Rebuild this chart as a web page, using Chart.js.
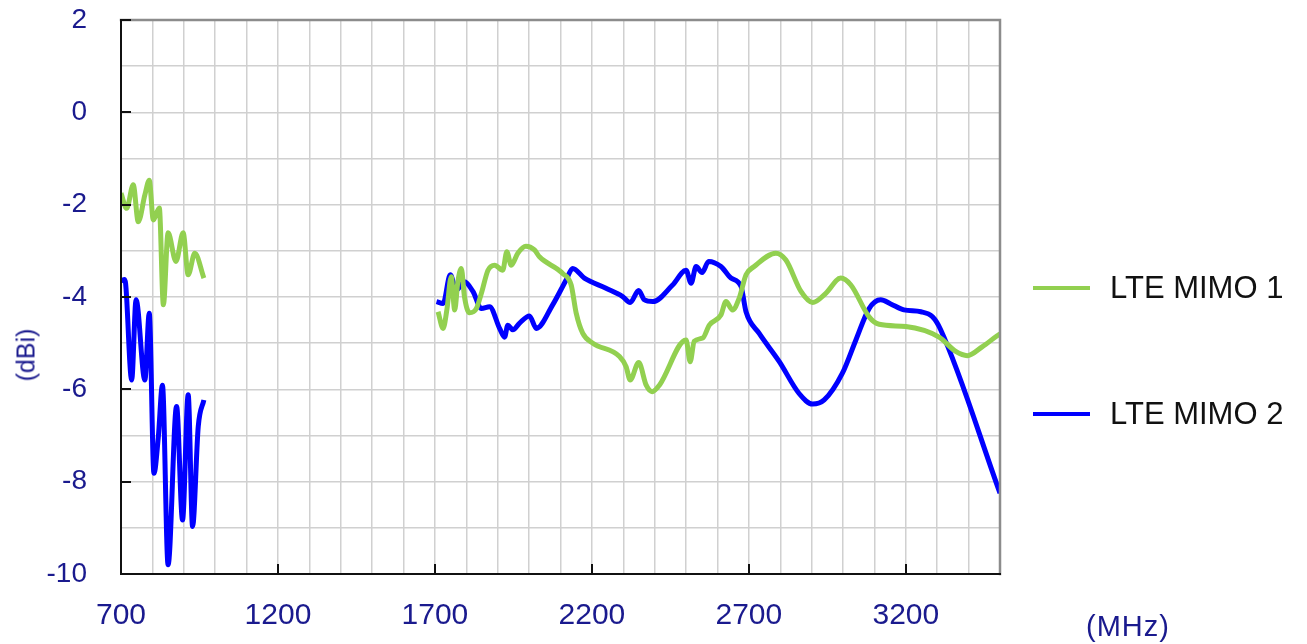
<!DOCTYPE html>
<html>
<head>
<meta charset="utf-8">
<script src="https://cdn.jsdelivr.net/npm/chart.js@4.4.1/dist/chart.umd.min.js"></script>
<style>
  body { margin: 0; background: #fff; }
  #wrap { position: relative; width: 1307px; height: 644px; font-family: "Liberation Sans", Arial, sans-serif; }
  #chart { position: absolute; left: 0; top: 0; }
  .leg { position: absolute; left: 1033px; height: 32px; }
  .leg .ln { position: absolute; left: 0; top: 14px; width: 57px; height: 4px; }
  .leg .tx { position: absolute; left: 77px; top: 0; font-size: 31px; line-height: 32px; color: #111; white-space: nowrap; }
  #ylab { position: absolute; left: 26px; top: 355px; transform: translate(-50%, -50%) rotate(-90deg); font-size: 25px; color: #1a1a8e; white-space: nowrap; }
  #xlab { position: absolute; left: 1128px; top: 626px; transform: translate(-50%, -50%); font-size: 29px; color: #1a1a8e; white-space: nowrap; letter-spacing: 1px; }
</style>
</head>
<body>
<div id="wrap">
  <canvas id="chart" width="1307" height="644"></canvas>
  <div class="leg" style="top:272px"><div class="ln" style="background:#92d050"></div><div class="tx">LTE MIMO 1</div></div>
  <div class="leg" style="top:398px"><div class="ln" style="background:#0000ff"></div><div class="tx">LTE MIMO 2</div></div>
  <div id="ylab">(dBi)</div>
  <div id="xlab">(MHz)</div>
</div>
<script>
const xTickLabels = [700, 1200, 1700, 2200, 2700, 3200]
const yTickLabels = [2, 0, -2, -4, -6, -8, -10]

// null gain = gap between the two bands
const mimo1Freq = [700, 718, 739, 755, 776, 790, 803, 822, 835, 850, 875, 898, 914, 935, 964,
    1300,
    1710, 1726, 1738, 1752, 1763, 1773, 1784, 1794, 1810, 1832, 1848, 1869, 1890, 1916, 1929, 1943,
    1964, 1990, 2017, 2033, 2107, 2134, 2150, 2171, 2203, 2288, 2309, 2322, 2349, 2373, 2392, 2415,
    2500, 2513, 2526, 2553, 2574, 2611, 2627, 2648, 2669, 2691, 2717, 2786, 2818, 2866, 2903, 2945,
    2993, 3025, 3083, 3115, 3200, 3306, 3359, 3396, 3443, 3491, 3500]
const mimo1Gain = [-1.75, -2.08, -1.57, -2.37, -1.79, -1.47, -2.33, -2.07, -4.17, -2.61, -3.23, -2.61, -3.52, -3.05, -3.59,
    null,
    -4.32, -4.68, -4.28, -3.56, -4.28, -3.67, -3.38, -3.99, -4.34, -4.25, -3.92, -3.42, -3.31, -3.42, -3.02, -3.31,
    -3.05, -2.90, -2.98, -3.13, -3.49, -3.74, -4.35, -4.79, -5.00, -5.29, -5.51, -5.80, -5.42, -5.91, -6.05, -5.91,
    -4.93, -5.40, -4.96, -4.89, -4.61, -4.39, -4.10, -4.28, -4.03, -3.52, -3.34, -3.05, -3.20, -3.88, -4.12, -3.92,
    -3.59, -3.74, -4.43, -4.59, -4.64, -4.87, -5.18, -5.27, -5.08, -4.84, -4.80]

const mimo2Freq = [700, 712, 734, 748, 776, 790, 805, 819, 832, 850, 877, 896, 914, 928, 946, 964,
    1300,
    1705, 1726, 1749, 1768, 1794, 1821, 1848, 1874, 1906, 1922, 1932, 1948, 1969, 2001, 2023, 2075,
    2118, 2139, 2176, 2245, 2298, 2322, 2349, 2367, 2394, 2457, 2500, 2516, 2532, 2551, 2572, 2611,
    2643, 2675, 2691, 2733, 2797, 2860, 2903, 2940, 2998, 3041, 3083, 3120, 3152, 3194, 3248, 3285,
    3311, 3500]
const mimo2Gain = [-3.65, -3.62, -5.80, -4.06, -5.80, -4.35, -7.82, -7.02, -5.91, -9.80, -6.37, -8.83, -6.12, -8.97, -6.81, -6.23,
    null,
    -4.10, -4.14, -3.52, -3.85, -3.67, -3.88, -4.25, -4.21, -4.68, -4.87, -4.61, -4.71, -4.57, -4.41, -4.68, -4.17,
    -3.63, -3.38, -3.59, -3.81, -3.99, -4.12, -3.86, -4.06, -4.10, -3.74, -3.42, -3.70, -3.34, -3.47, -3.23, -3.34,
    -3.59, -3.77, -4.32, -4.79, -5.40, -6.09, -6.32, -6.23, -5.65, -4.93, -4.25, -4.06, -4.15, -4.28, -4.32, -4.43,
    -4.71, -8.25]

const tickColor = '#1a1a8e'
const font = '"Liberation Sans", Arial, sans-serif'

function points(freq, gain) {
    return freq.map((f, i) => ({ x: f, y: gain[i] }))
}

const framePlugin = {
    id: 'frame',
    afterDraw(chart) {
        const { ctx, chartArea: a, scales } = chart
        ctx.save()
        ctx.lineCap = 'square'
        ctx.strokeStyle = '#8c8c8c'
        ctx.lineWidth = 2.5
        ctx.beginPath()
        ctx.moveTo(a.left, a.top)
        ctx.lineTo(a.right, a.top)
        ctx.lineTo(a.right, a.bottom)
        ctx.stroke()

        ctx.strokeStyle = '#111'
        ctx.lineWidth = 2
        ctx.beginPath()
        ctx.moveTo(a.left, a.top)
        ctx.lineTo(a.left, a.bottom)
        ctx.lineTo(a.right, a.bottom)
        yTickLabels.forEach(v => {
            const py = Math.round(scales.y.getPixelForValue(v))
            ctx.moveTo(a.left, py)
            ctx.lineTo(a.left + 9, py)
        })
        xTickLabels.forEach(v => {
            const px = Math.round(scales.x.getPixelForValue(v))
            ctx.moveTo(px, a.bottom)
            ctx.lineTo(px, a.bottom - 9)
        })
        ctx.stroke()
        ctx.restore()
    }
}

new Chart(document.getElementById('chart').getContext('2d'), {
    type: 'line',
    data: {
        datasets: [
            {
                label: 'LTE MIMO 1',
                data: points(mimo1Freq, mimo1Gain),
                borderColor: '#92d050',
                borderWidth: 5,
                pointRadius: 0,
                cubicInterpolationMode: 'monotone',
                fill: false
            },
            {
                label: 'LTE MIMO 2',
                data: points(mimo2Freq, mimo2Gain),
                borderColor: '#0000ff',
                borderWidth: 5,
                pointRadius: 0,
                cubicInterpolationMode: 'monotone',
                fill: false
            }
        ]
    },
    options: {
        responsive: false,
        animation: false,
        layout: { padding: { left: 0, top: 20, right: 307, bottom: 0 } },
        plugins: {
            legend: { display: false },
            tooltip: { enabled: false }
        },
        scales: {
            x: {
                type: 'linear',
                min: 700,
                max: 3500,
                afterFit: s => { s.height = 70; s.paddingLeft = 0; s.paddingRight = 0 },
                border: { display: false },
                grid: { color: '#d0d0d0', lineWidth: 1.5, drawTicks: false },
                ticks: {
                    stepSize: 100,
                    autoSkip: false,
                    maxRotation: 0,
                    padding: 24,
                    color: tickColor,
                    font: { family: font, size: 30 },
                    callback: v => xTickLabels.includes(v) ? String(v) : ''
                }
            },
            y: {
                min: -10,
                max: 2,
                afterFit: s => { s.width = 121; s.paddingTop = 0; s.paddingBottom = 0 },
                border: { display: false },
                grid: { color: '#d0d0d0', lineWidth: 1.5, drawTicks: false },
                ticks: {
                    stepSize: 1,
                    autoSkip: false,
                    padding: 34,
                    color: tickColor,
                    font: { family: font, size: 28 },
                    callback: v => yTickLabels.includes(v) ? String(v) : ''
                }
            }
        }
    },
    plugins: [framePlugin]
})
</script>
</body>
</html>
